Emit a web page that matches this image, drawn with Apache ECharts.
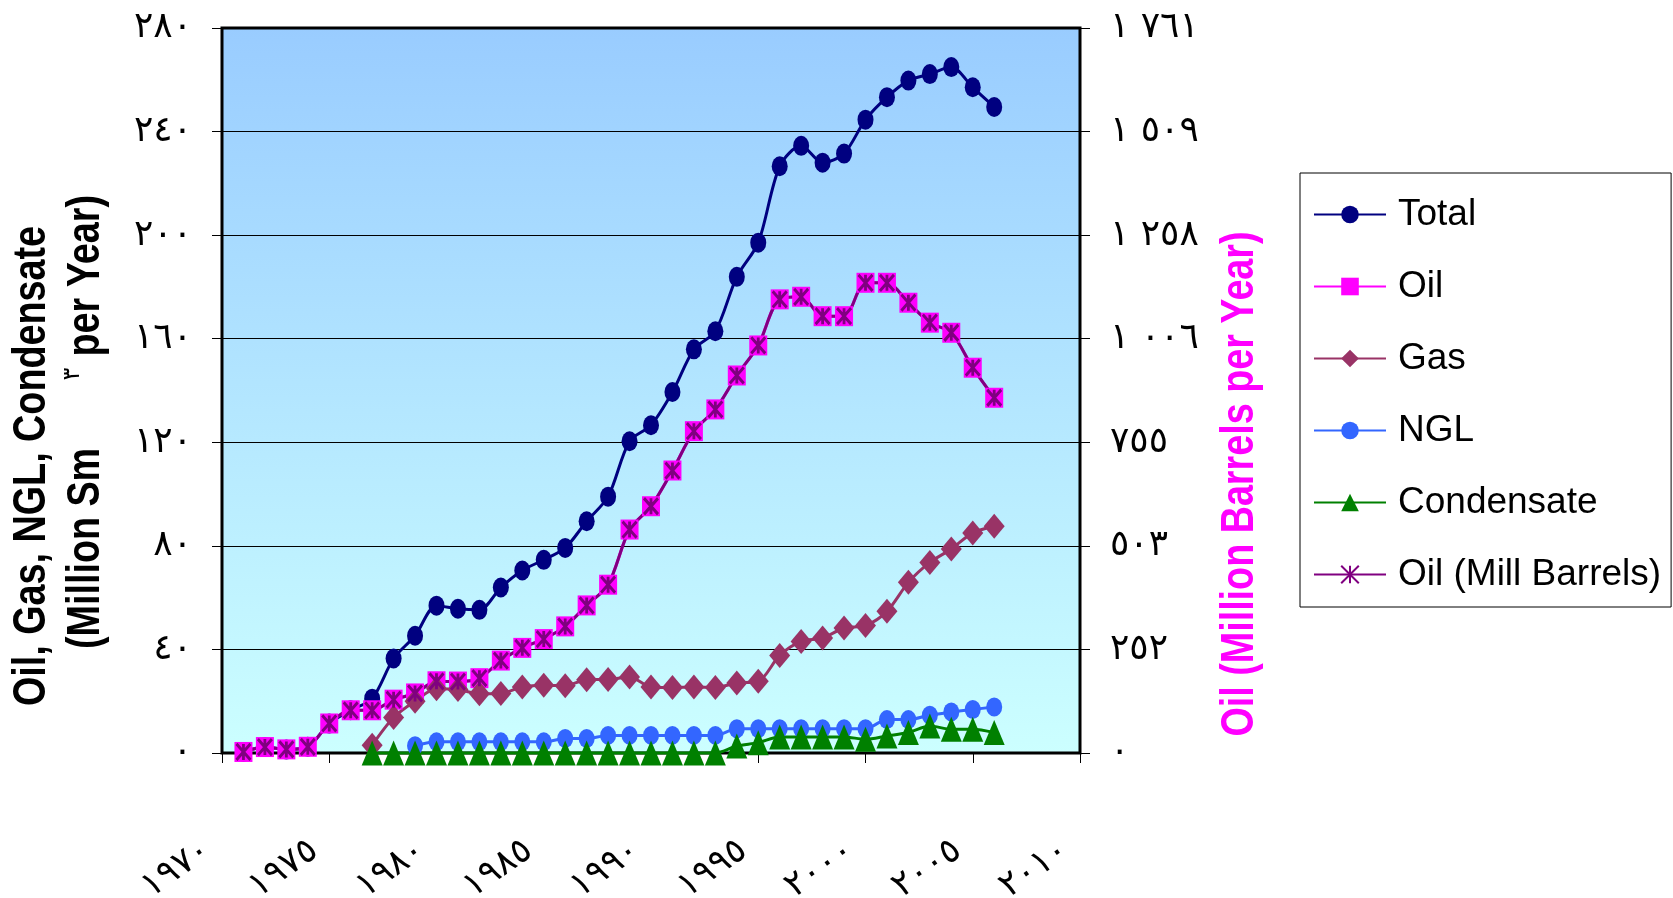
<!DOCTYPE html>
<html>
<head>
<meta charset="utf-8">
<script src="https://cdn.jsdelivr.net/npm/echarts@6/dist/echarts.min.js"></script>
<style>
  html, body { margin: 0; padding: 0; background: #ffffff; }
  #chart { width: 1673px; height: 898px; }
</style>
</head>
<body>
<div id="chart"></div>
<script>
// years and production series
const years = [1971, 1972, 1973, 1974, 1975, 1976, 1977, 1978, 1979, 1980, 1981, 1982, 1983, 1984, 1985, 1986, 1987, 1988,
  1989, 1990, 1991, 1992, 1993, 1994, 1995, 1996, 1997, 1998, 1999, 2000, 2001, 2002, 2003, 2004, 2005, 2006];
const totalVals = [0.4, 2.3, 1.4, 2.4, 11.4, 16.5, 21.0, 36.5, 45.3, 56.9, 55.7, 55.3, 63.9, 70.5, 74.6, 79.2, 89.5, 99.0,
  120.4, 126.6, 139.4, 155.9, 162.9, 183.9, 197.1, 226.6, 234.5, 228.0, 231.5, 244.6, 253.3, 259.7, 262.2, 264.9, 257.1, 249.5];
const oilVals = [0.4, 2.3, 1.4, 2.4, 11.4, 16.5, 16.5, 20.6, 23.0, 27.7, 27.6, 28.9, 35.7, 40.6, 44.0, 48.9, 57.0, 65.0,
  86.3, 95.3, 109.1, 124.3, 132.7, 145.8, 157.4, 175.2, 176.2, 168.7, 168.7, 181.6, 181.6, 173.9, 166.2, 162.3, 148.8, 137.2];
// oil in million barrels, right axis
const oilBblVals = [2.5, 14.5, 8.8, 15.1, 71.7, 103.8, 103.8, 129.6, 144.7, 174.2, 173.6, 181.8, 224.6, 255.4, 276.8, 307.6, 358.5, 408.9,
  542.8, 599.4, 686.2, 781.8, 834.7, 917.1, 990.0, 1102.0, 1108.3, 1061.1, 1061.1, 1142.3, 1142.3, 1093.8, 1045.4, 1020.9, 936.0, 863.0];
// gas and condensate start in 1977, NGL in 1979
const gasYears = [1977, 1978, 1979, 1980, 1981, 1982, 1983, 1984, 1985, 1986, 1987, 1988, 1989, 1990, 1991,
  1992, 1993, 1994, 1995, 1996, 1997, 1998, 1999, 2000, 2001, 2002, 2003, 2004, 2005, 2006];
const gasVals = [3.0, 13.7, 20.0, 24.8, 24.5, 22.9, 23.0, 25.5, 26.2, 26.0, 28.3, 28.4, 29.4, 25.5, 25.3,
  25.5, 25.3, 27.0, 27.7, 37.7, 43.1, 44.4, 48.3, 49.2, 54.7, 65.9, 73.6, 78.8, 85.0, 87.6];
const condVals = [0, 0, 0, 0, 0, 0, 0, 0, 0, 0, 0, 0, 0, 0, 0,
  0, 0, 2.7, 4.0, 6.2, 6.2, 6.2, 6.2, 5.3, 6.6, 7.9, 10.4, 9.2, 9.2, 7.9];
const ngliYears = [1979, 1980, 1981, 1982, 1983, 1984, 1985, 1986, 1987, 1988, 1989, 1990, 1991, 1992,
  1993, 1994, 1995, 1996, 1997, 1998, 1999, 2000, 2001, 2002, 2003, 2004, 2005, 2006];
const ngliVals = [2.8, 4.3, 4.3, 4.3, 4.3, 4.3, 4.3, 5.6, 5.6, 6.8, 6.8, 6.8, 6.8, 6.8,
  6.8, 9.4, 9.4, 9.4, 9.4, 9.4, 9.4, 9.4, 12.9, 12.9, 14.6, 15.8, 16.8, 17.8];

// tick labels (Arabic-Indic digits as in the original)
// \u200E marks keep the thousands gap from flipping the digit groups
const xTickLabels = ["١٩٧٠", "١٩٧٥", "١٩٨٠", "١٩٨٥", "١٩٩٠", "١٩٩٥", "٢٠٠٠", "٢٠٠٥", "٢٠١٠"];
const leftTickLabels = ["٠", "٤٠", "٨٠", "١٢٠", "١٦٠", "٢٠٠", "٢٤٠", "٢٨٠"];
const rightTickLabels = ["٠", "٢٥٢", "٥٠٣", "٧٥٥", "١\u200E \u200E٠٠٦", "١\u200E \u200E٢٥٨", "١\u200E \u200E٥٠٩", "١\u200E \u200E٧٦١"];

const pairs = (xs, ys) => xs.map((x, i) => [x, ys[i]]);

const sansFont = "'Liberation Sans', Arial, sans-serif";
const titleFont = "bold 46px " + sansFont;
const tickFont = { fontFamily: "'DejaVu Sans', sans-serif", fontSize: 36, color: "#000" };

const chart = echarts.init(document.getElementById("chart"));

const option = {
  backgroundColor: "#ffffff",
  animation: false,
  grid: {
    left: 222,
    right: 593,
    top: 28,
    bottom: 145,
    outerBoundsMode: "none",
    containLabel: false,
    show: true,
    borderColor: "#000",
    borderWidth: 3,
    backgroundColor: {
      type: "linear", x: 0, y: 0, x2: 0, y2: 1,
      colorStops: [
        { offset: 0, color: "#99CCFF" },
        { offset: 1, color: "#CCFFFF" },
      ],
    },
  },
  xAxis: {
    type: "value",
    min: 1970,
    max: 2010,
    interval: 5,
    splitLine: { show: false },
    axisLine: { lineStyle: { color: "#000", width: 1 } },
    axisTick: { length: 10, lineStyle: { color: "#000" } },
    axisLabel: Object.assign({}, tickFont, {
      fontSize: 35,
      rotate: 35,
      margin: 84,
      padding: [0, 18, 0, 0],
      formatter: v => xTickLabels[Math.round((v - 1970) / 5)],
    }),
  },
  yAxis: [
    {
      type: "value",
      min: 0,
      max: 280,
      interval: 40,
      axisLine: { show: true, lineStyle: { color: "#000" } },
      axisTick: { show: true, length: 10, lineStyle: { color: "#000" } },
      splitLine: { lineStyle: { color: "#000", width: 1 } },
      axisLabel: Object.assign({}, tickFont, {
        margin: 30,
        formatter: v => leftTickLabels[Math.round(v / 40)],
      }),
    },
    {
      type: "value",
      min: 0,
      max: 1761.2,
      interval: 251.6,
      position: "right",
      axisLine: { show: true, lineStyle: { color: "#000" } },
      axisTick: { show: true, length: 10, lineStyle: { color: "#000" } },
      splitLine: { show: false },
      axisLabel: Object.assign({}, tickFont, {
        margin: 30,
        formatter: v => rightTickLabels[Math.round(v / 251.6)],
      }),
    },
  ],
  legend: {
    orient: "vertical",
    left: 1300,
    top: 173,
    padding: [23, 10, 14, 13],
    itemWidth: 72,
    itemHeight: 22,
    itemGap: 35,
    borderColor: "#000",
    borderWidth: 1,
    backgroundColor: "#fff",
    textStyle: {
      fontFamily: sansFont,
      fontSize: 37,
      color: "#000",
      padding: [0, 0, 0, 7],
    },
    data: ["Total", "Oil", "Gas", "NGL", "Condensate", "Oil (Mill Barrels)"],
  },
  // axis titles, squeezed to the narrow face of the original
  graphic: [
    {
      type: "text",
      x: 32, y: 466, rotation: Math.PI / 2, scaleX: 0.82,
      style: { text: "Oil, Gas, NGL, Condensate", font: titleFont, fill: "#000", align: "center", verticalAlign: "middle" },
    },
    {
      type: "text",
      x: 86, y: 649, rotation: Math.PI / 2, scaleX: 0.82,
      style: { text: "(Million Sm", font: titleFont, fill: "#000", align: "left", verticalAlign: "middle" },
    },
    {
      type: "text",
      x: 73, y: 374, rotation: Math.PI / 2,
      style: { text: "٣", font: "24px 'DejaVu Sans', sans-serif", fill: "#000", align: "center", verticalAlign: "middle" },
    },
    {
      type: "text",
      x: 86, y: 195, rotation: Math.PI / 2, scaleX: 0.82,
      style: { text: "per Year)", font: titleFont, fill: "#000", align: "right", verticalAlign: "middle" },
    },
    {
      type: "text",
      x: 1240, y: 484, rotation: Math.PI / 2, scaleX: 0.82,
      style: { text: "Oil (Million Barrels per Year)", font: titleFont, fill: "#FF00FF", align: "center", verticalAlign: "middle" },
    },
  ],
  series: [
    {
      name: "Total",
      type: "line",
      smooth: 0.3,
      clip: false,
      data: pairs(years, totalVals),
      symbol: "circle",
      symbolSize: [16, 20],
      lineStyle: { color: "#000080", width: 3 },
      itemStyle: { color: "#000080" },
    },
    {
      name: "Oil",
      type: "line",
      smooth: 0.3,
      clip: false,
      data: pairs(years, oilVals),
      symbol: "rect",
      symbolSize: [18, 20],
      lineStyle: { color: "#FF00FF", width: 3 },
      itemStyle: { color: "#FF00FF" },
    },
    {
      name: "Gas",
      type: "line",
      smooth: 0.3,
      clip: false,
      data: pairs(gasYears, gasVals),
      symbol: "diamond",
      symbolSize: [21, 25],
      lineStyle: { color: "#993366", width: 3 },
      itemStyle: { color: "#993366" },
    },
    {
      name: "NGL",
      type: "line",
      smooth: 0.3,
      clip: false,
      data: pairs(ngliYears, ngliVals),
      symbol: "circle",
      symbolSize: [16, 19],
      lineStyle: { color: "#3366FF", width: 3 },
      itemStyle: { color: "#3366FF" },
    },
    {
      name: "Condensate",
      type: "line",
      smooth: 0.3,
      clip: false,
      data: pairs(gasYears, condVals),
      symbol: "triangle",
      symbolSize: [21, 25],
      lineStyle: { color: "#008000", width: 3 },
      itemStyle: { color: "#008000" },
    },
    {
      name: "Oil (Mill Barrels)",
      type: "line",
      yAxisIndex: 1,
      smooth: 0.3,
      clip: false,
      data: pairs(years, oilBblVals),
      // asterisk marker
      symbol: "path://M5,0L5,10M0,0L10,10M10,0L0,10",
      symbolSize: [14, 16],
      lineStyle: { color: "#800080", width: 3 },
      itemStyle: { color: "#800080", borderColor: "#800080", borderWidth: 3 },
    },
  ],
};

chart.setOption(option);
</script>
</body>
</html>
